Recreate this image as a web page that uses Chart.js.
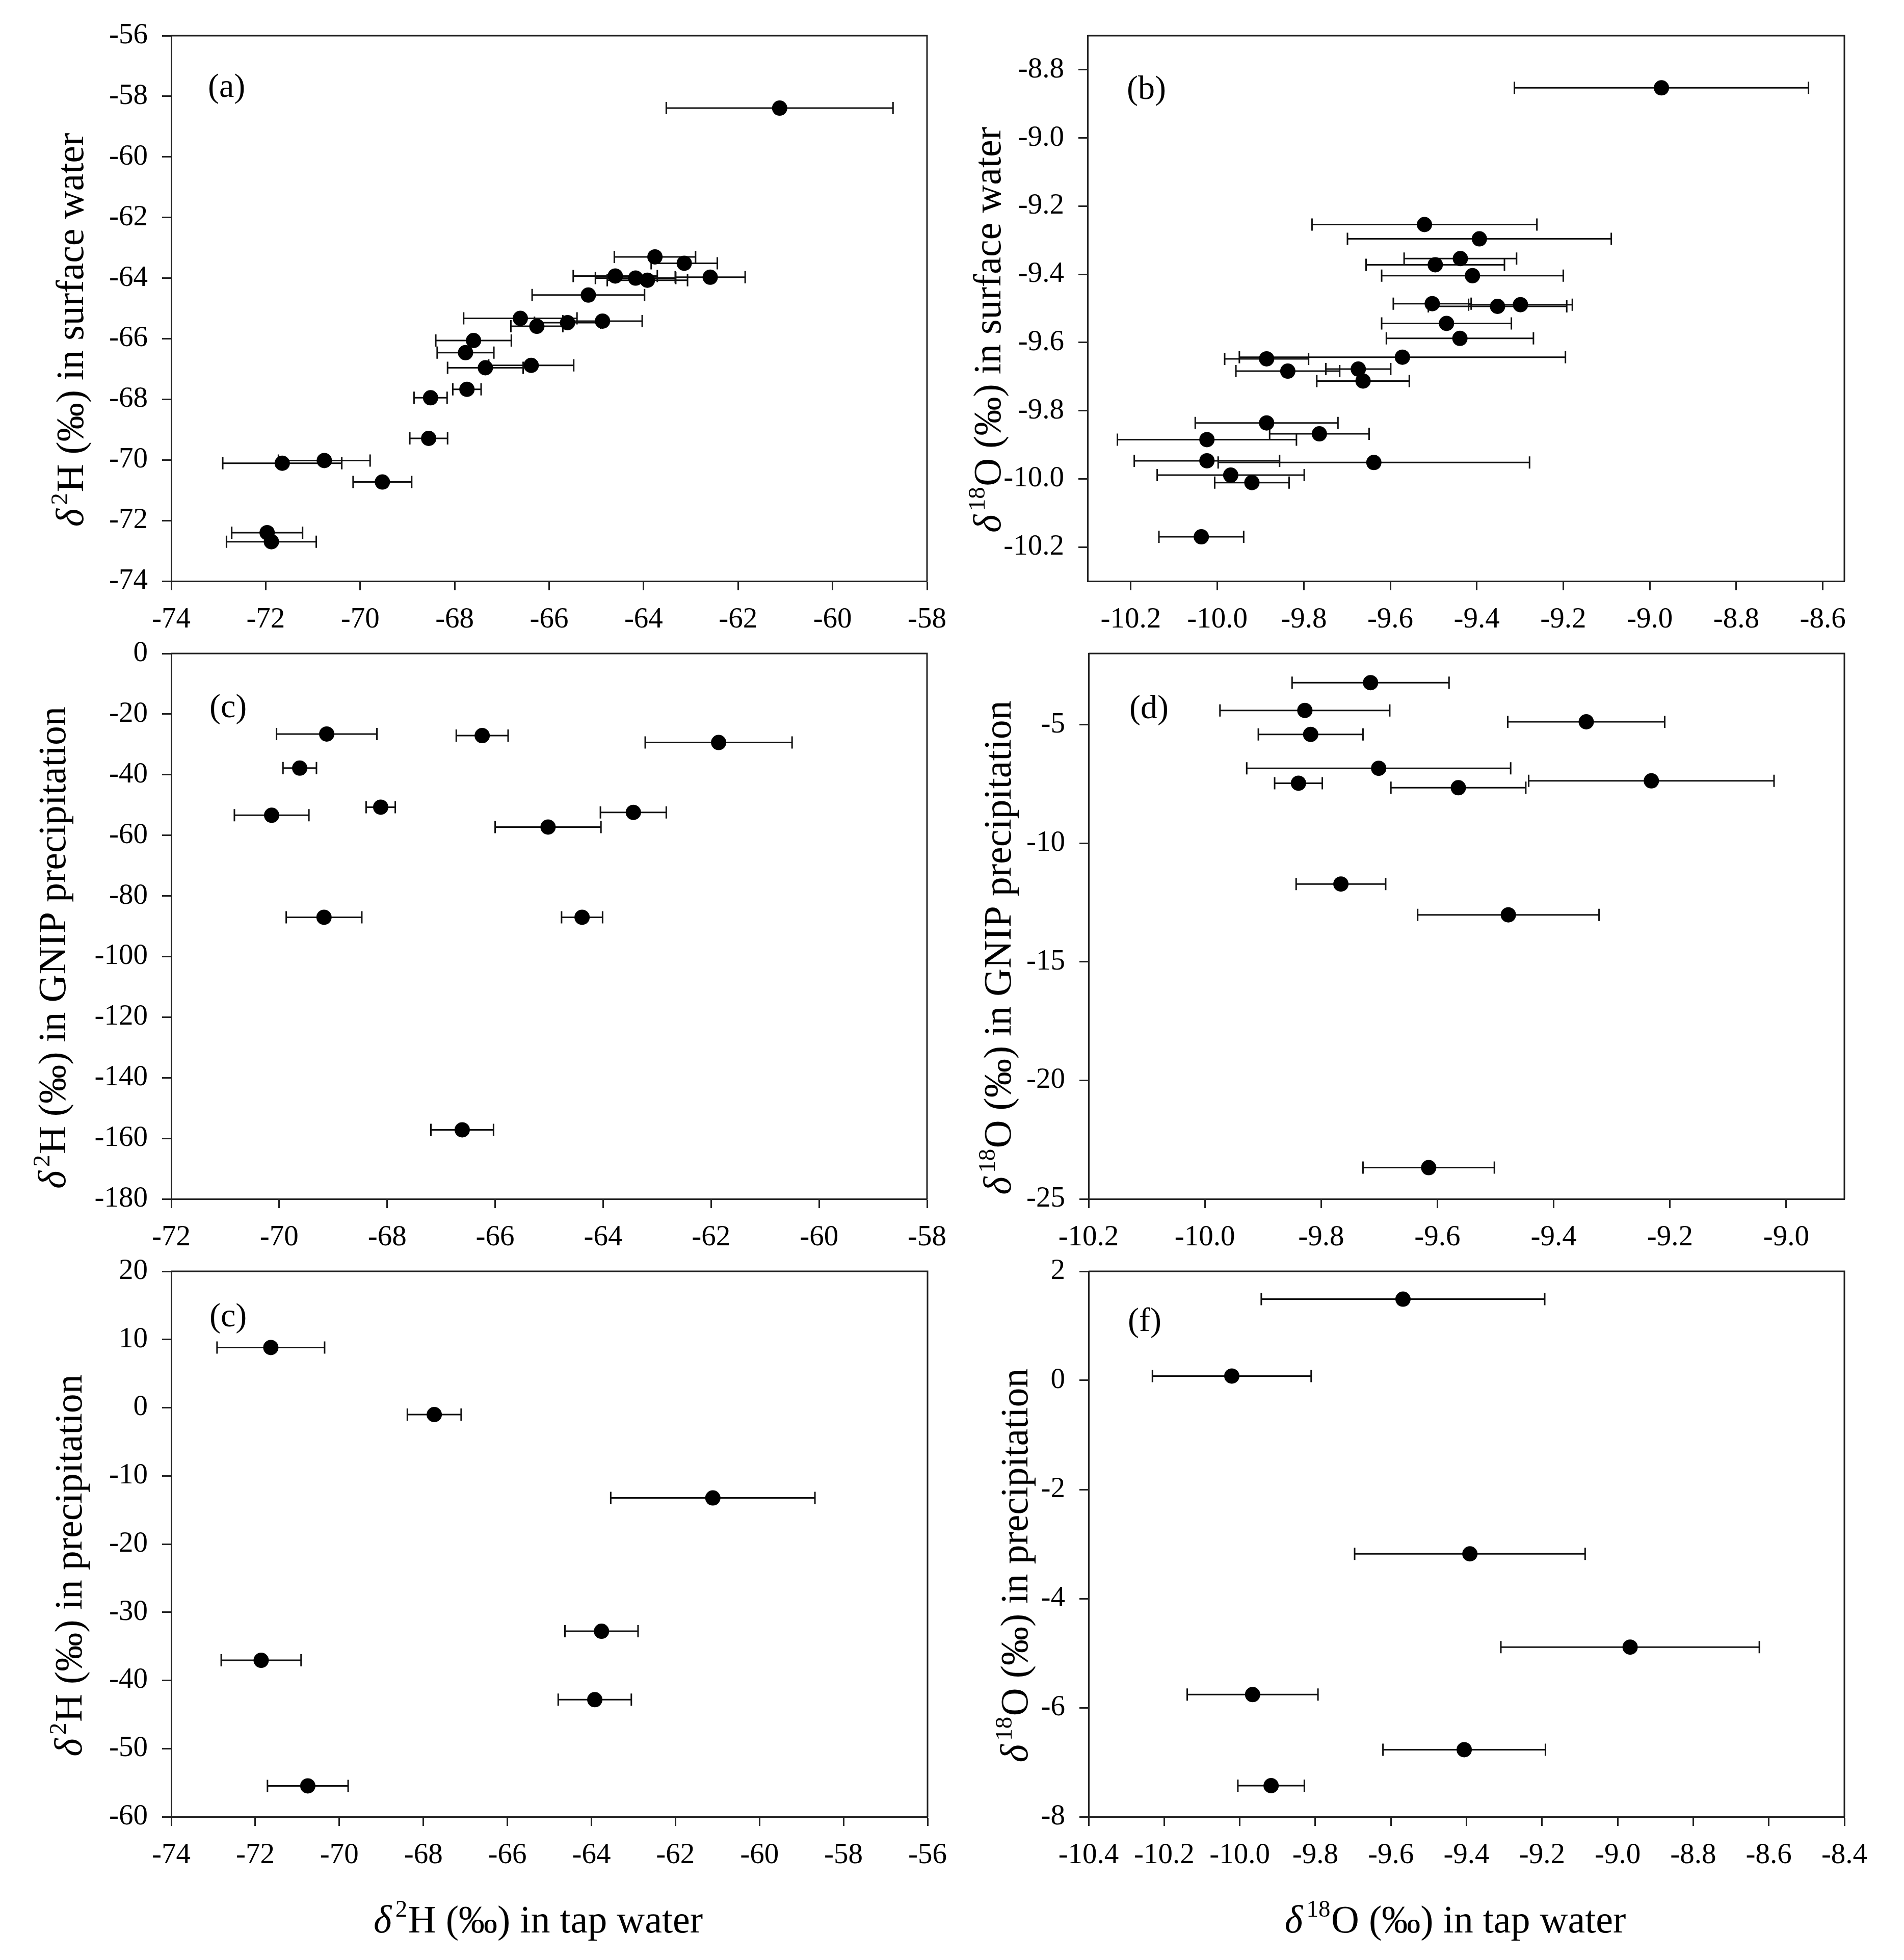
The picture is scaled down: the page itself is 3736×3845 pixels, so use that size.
<!DOCTYPE html>
<html><head><meta charset="utf-8">
<script src="https://cdn.jsdelivr.net/npm/chart.js@4.4.1/dist/chart.umd.min.js"></script>
<style>
html,body{margin:0;padding:0;background:#fff;}
body{width:3736px;height:3845px;position:relative;overflow:hidden;}
canvas{position:absolute;}
</style></head><body>
<script>
// ---------- DATA ----------
// (a) tap water vs surface water, delta 2H
const aX    = [-61.12,-63.76,-63.14,-64.60,-64.17,-63.92,-62.59,-65.17,-66.61,-66.26,-65.61,-64.87,-67.60,-67.77,-67.35,-66.38,-67.74,-68.51,-68.55,-70.76,-71.65,-69.53,-71.97,-71.88];
const aY    = [-58.39,-63.30,-63.51,-63.93,-64.00,-64.07,-63.97,-64.56,-65.33,-65.59,-65.47,-65.42,-66.06,-66.46,-66.96,-66.88,-67.67,-67.95,-69.29,-70.02,-70.11,-70.73,-72.40,-72.70];
const aXErr = [2.40,0.86,0.70,0.89,0.85,0.85,0.74,1.19,1.20,0.55,0.70,0.84,0.80,0.60,0.80,0.90,0.30,0.35,0.40,0.97,1.26,0.62,0.75,0.95];
const aXTicks = [-74,-72,-70,-68,-66,-64,-62,-60,-58];
const aYTicks = [-74,-72,-70,-68,-66,-64,-62,-60,-58,-56];
const aYTitle = ['δ','2','H (‰) in surface water'];

// (b) tap water vs surface water, delta 18O
const bX    = [-8.973,-9.521,-9.394,-9.438,-9.496,-9.410,-9.503,-9.352,-9.299,-9.470,-9.439,-9.572,-9.886,-9.837,-9.674,-9.663,-9.886,-9.764,-10.024,-10.024,-9.638,-9.969,-9.920,-10.037];
const bY    = [-8.853,-9.254,-9.296,-9.354,-9.372,-9.404,-9.486,-9.494,-9.489,-9.544,-9.588,-9.643,-9.648,-9.684,-9.678,-9.713,-9.836,-9.868,-9.885,-9.947,-9.952,-9.989,-10.011,-10.170];
const bXErr = [0.34,0.26,0.305,0.13,0.16,0.21,0.09,0.16,0.12,0.15,0.17,0.377,0.097,0.12,0.075,0.107,0.165,0.115,0.207,0.168,0.36,0.17,0.086,0.098];
const bXTicks = [-10.2,-10.0,-9.8,-9.6,-9.4,-9.2,-9.0,-8.8,-8.6];
const bYTicks = [-10.2,-10.0,-9.8,-9.6,-9.4,-9.2,-9.0,-8.8];
const bYTitle = ['δ','18','O (‰) in surface water'];

// (c) tap water vs GNIP precipitation, delta 2H
const cX    = [-69.12,-66.24,-61.86,-69.62,-68.12,-70.14,-63.44,-65.02,-69.17,-64.39,-66.61];
const cY    = [-26.56,-27.09,-29.37,-37.82,-50.70,-53.38,-52.44,-57.27,-87.04,-87.04,-157.2];
const cXErr = [0.93,0.48,1.36,0.31,0.27,0.69,0.61,0.98,0.70,0.38,0.58];
const cXTicks = [-72,-70,-68,-66,-64,-62,-60,-58];
const cYTicks = [-180,-160,-140,-120,-100,-80,-60,-40,-20,0];
const cYTitle = ['δ','2','H (‰) in GNIP precipitation'];

// (d) tap water vs GNIP precipitation, delta 18O
const dX    = [-9.715,-9.828,-9.344,-9.818,-9.701,-9.839,-9.564,-9.232,-9.766,-9.478,-9.615];
const dY    = [-3.23,-4.40,-4.88,-5.41,-6.84,-7.47,-7.66,-7.37,-11.72,-13.02,-23.68];
const dXErr = [0.135,0.146,0.135,0.09,0.227,0.041,0.116,0.211,0.077,0.156,0.113];
const dXTicks = [-10.2,-10.0,-9.8,-9.6,-9.4,-9.2,-9.0];
const dYTicks = [-25,-20,-15,-10,-5];
const dYTitle = ['δ','18','O (‰) in GNIP precipitation'];

// (e) tap water vs precipitation, delta 2H (labelled "(c)" in the original)
const eX    = [-71.63,-67.74,-61.11,-63.76,-71.86,-63.92,-70.75];
const eY    = [8.83,-1.01,-13.24,-32.79,-37.05,-42.83,-55.47];
const eXErr = [1.28,0.64,2.43,0.87,0.95,0.87,0.96];
const eXTicks = [-74,-72,-70,-68,-66,-64,-62,-60,-58,-56];
const eYTicks = [-60,-50,-40,-30,-20,-10,0,10,20];
const eYTitle = ['δ','2','H (‰) in precipitation'];
const eXTitle = ['δ','2','H (‰) in tap water'];

// (f) tap water vs precipitation, delta 18O
const fX    = [-9.568,-10.021,-9.391,-8.967,-9.966,-9.406,-9.917];
const fY    = [1.49,0.08,-3.18,-4.89,-5.76,-6.77,-7.43];
const fXErr = [0.375,0.21,0.305,0.342,0.173,0.215,0.088];
const fXTicks = [-10.4,-10.2,-10.0,-9.8,-9.6,-9.4,-9.2,-9.0,-8.8,-8.6,-8.4];
const fYTicks = [-8,-6,-4,-2,0,2];
const fYTitle = ['δ','18','O (‰) in precipitation'];
const fXTitle = ['δ','18','O (‰) in tap water'];

const panelLabels = ['(a)','(b)','(c)','(d)','(c)','(f)'];

// ---------- LAYOUT / STYLE ----------
const FAM = "'Liberation Serif','Times New Roman',serif";
const PAD_L = 336, PAD_T = 70, PAD_R = 110, PAD_B = 270;
const TICK_FONT = 57, TITLE_FONT = 76, LABEL_FONT = 66;

const panels = [
  {x:aX,y:aY,e:aXErr,xt:aXTicks,yt:aYTicks,xr:[-74,-58],yr:[-74,-56],xd:0,yd:0,yTitle:aYTitle,label:panelLabels[0],
   rect:{left:336,top:70,w:1483,h:1070},yOff:196,lab:[72,103]},
  {x:bX,y:bY,e:bXErr,xt:bXTicks,yt:bYTicks,xr:[-10.3,-8.55],yr:[-10.3,-8.7],xd:1,yd:1,yTitle:bYTitle,label:panelLabels[1],
   rect:{left:2134,top:70,w:1485,h:1070},yOff:194,lab:[77,107]},
  {x:cX,y:cY,e:cXErr,xt:cXTicks,yt:cYTicks,xr:[-72,-58],yr:[-180,0],xd:0,yd:0,yTitle:cYTitle,label:panelLabels[2],
   rect:{left:336,top:1282,w:1483,h:1070},yOff:231,lab:[75,108]},
  {x:dX,y:dY,e:dXErr,xt:dXTicks,yt:dYTicks,xr:[-10.2,-8.9],yr:[-25,-2],xd:1,yd:0,yTitle:dYTitle,label:panelLabels[3],
   rect:{left:2136,top:1282,w:1483,h:1070},yOff:176,lab:[80,110]},
  {x:eX,y:eY,e:eXErr,xt:eXTicks,yt:eYTicks,xr:[-74,-56],yr:[-60,20],xd:0,yd:0,yTitle:eYTitle,xTitle:eXTitle,label:panelLabels[4],
   rect:{left:336,top:2494,w:1484,h:1070},yOff:199,lab:[75,91]},
  {x:fX,y:fY,e:fXErr,xt:fXTicks,yt:fYTicks,xr:[-10.4,-8.4],yr:[-8,2],xd:1,yd:0,yTitle:fYTitle,xTitle:fXTitle,label:panelLabels[5],
   rect:{left:2136,top:2494,w:1483,h:1070},yOff:143,lab:[77,100]}
];

function drawRich(ctx, parts, cx, cy, rotate, size){
  const segs = [
    {t:parts[0], font:'italic '+size+'px '+FAM, dy:0, gap:0.1*size},
    {t:parts[1], font:Math.round(size*0.62)+'px '+FAM, dy:-0.4*size, gap:0.02*size},
    {t:parts[2], font:size+'px '+FAM, dy:0, gap:0}
  ];
  ctx.save();
  ctx.translate(cx, cy);
  if (rotate) ctx.rotate(-Math.PI/2);
  let total = 0;
  segs.forEach(s=>{ctx.font=s.font; s.w = ctx.measureText(s.t).width + s.gap; total += s.w;});
  let x = -total/2 - 22;
  const base = 0.3*size;
  ctx.fillStyle = '#000';
  ctx.textBaseline = 'alphabetic';
  ctx.textAlign = 'left';
  segs.forEach(s=>{ctx.font=s.font; ctx.fillText(s.t, x, base + s.dy); x += s.w;});
  ctx.restore();
}

const errorBars = {
  id:'errorBars',
  beforeDatasetsDraw(chart){
    const ctx = chart.ctx, xs = chart.scales.x, ys = chart.scales.y;
    ctx.save();
    ctx.strokeStyle = '#111';
    ctx.lineWidth = 3;
    chart.data.datasets.forEach(ds=>{
      ds.data.forEach((pt,i)=>{
        const err = ds.xErr[i];
        const x0 = xs.getPixelForValue(pt.x - err);
        const x1 = xs.getPixelForValue(pt.x + err);
        const y = ys.getPixelForValue(pt.y);
        ctx.beginPath();
        ctx.moveTo(x0,y); ctx.lineTo(x1,y);
        ctx.moveTo(x0,y-12); ctx.lineTo(x0,y+12);
        ctx.moveTo(x1,y-12); ctx.lineTo(x1,y+12);
        ctx.stroke();
      });
    });
    ctx.restore();
  }
};

const decor = {
  id:'decor',
  afterDraw(chart, args, opts){
    const ctx = chart.ctx, a = chart.chartArea;
    ctx.save();
    ctx.strokeStyle = '#222';
    ctx.lineWidth = 3;
    ctx.beginPath();
    ctx.moveTo(a.left, a.top); ctx.lineTo(a.right, a.top); ctx.lineTo(a.right, a.bottom);
    ctx.stroke();
    ctx.fillStyle = '#000';
    ctx.font = LABEL_FONT+'px '+FAM;
    ctx.textBaseline = 'middle';
    ctx.textAlign = 'left';
    ctx.fillText(opts.label, a.left + opts.lab[0], a.top + opts.lab[1]);
    ctx.restore();
    drawRich(ctx, opts.yTitle, a.left - opts.yOff, (a.top + a.bottom)/2 + 20, true, TITLE_FONT);
    if (opts.xTitle) drawRich(ctx, opts.xTitle, (a.left + a.right)/2, a.bottom + 204, false, TITLE_FONT);
  }
};

function axis(range, ticks, dec, horizontal){
  return {
    type:'linear',
    position: horizontal ? 'bottom' : 'left',
    min: range[0], max: range[1],
    afterBuildTicks: s => { s.ticks = ticks.map(v => ({value:v})); },
    afterFit: s => { if (horizontal) s.height = PAD_B; else s.width = PAD_L; },
    ticks:{
      callback: v => Number(v).toFixed(dec),
      font:{family:FAM, size:TICK_FONT},
      color:'#000',
      padding: horizontal ? 24 : 28,
      autoSkip:false, maxRotation:0, minRotation:0
    },
    grid:{display:true, drawOnChartArea:false, drawTicks:true, tickLength:18, tickWidth:3, tickColor:'#222'},
    border:{display:true, color:'#222', width:3},
    title:{display:false}
  };
}

panels.forEach(p=>{
  const W = PAD_L + p.rect.w + PAD_R, H = PAD_T + p.rect.h + PAD_B;
  const cv = document.createElement('canvas');
  cv.width = W; cv.height = H;
  cv.style.left = (p.rect.left - PAD_L)+'px';
  cv.style.top = (p.rect.top - PAD_T)+'px';
  cv.style.width = W+'px'; cv.style.height = H+'px';
  document.body.appendChild(cv);
  new Chart(cv, {
    type:'scatter',
    data:{datasets:[{
      data: p.x.map((v,i)=>({x:v, y:p.y[i]})),
      xErr: p.e,
      pointRadius:15, pointHoverRadius:15,
      pointBackgroundColor:'#000', pointBorderWidth:0, showLine:false
    }]},
    options:{
      responsive:false, animation:false, devicePixelRatio:1, events:[],
      layout:{padding:{top:PAD_T, right:PAD_R, left:0, bottom:0}},
      plugins:{
        legend:{display:false}, tooltip:{enabled:false},
        decor:{label:p.label, lab:p.lab, yTitle:p.yTitle, xTitle:p.xTitle, yOff:p.yOff}
      },
      scales:{
        x: axis(p.xr, p.xt, p.xd, true),
        y: axis(p.yr, p.yt, p.yd, false)
      }
    },
    plugins:[errorBars, decor]
  });
});
</script>
</body></html>
